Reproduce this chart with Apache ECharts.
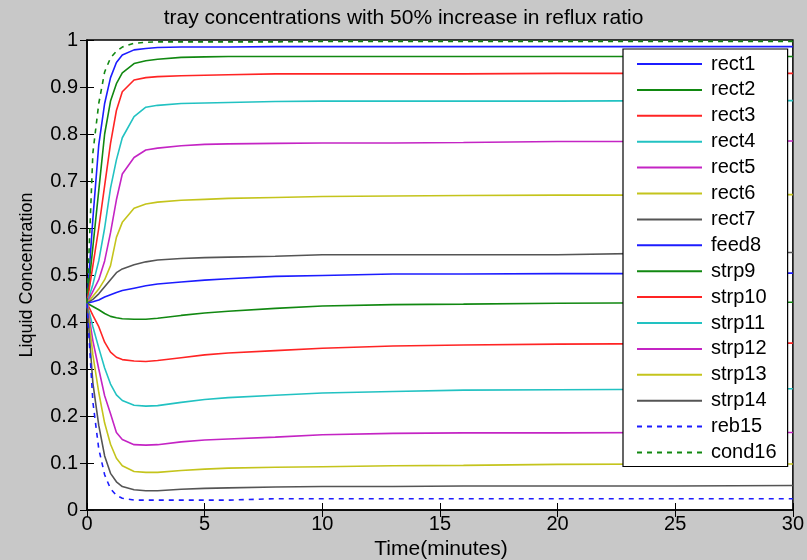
<!DOCTYPE html>
<html>
<head>
    <meta charset="utf-8"/>
    <title>tray concentrations</title>
    <script src="https://cdn.jsdelivr.net/npm/echarts@6/dist/echarts.min.js"></script>
    <style>
        html, body { margin: 0; padding: 0; background: #c8c8c8; }
        #chart { width: 807px; height: 560px; }
    </style>
</head>
<body>
<div id="chart"></div>
<script type="text/javascript">
    // time in minutes (shared by all trays)
    var times = [0, 0.25, 0.5, 0.75, 1, 1.25, 1.5, 2, 2.5, 3, 4, 5, 6, 8, 10, 13, 16, 20, 25, 30];

    var trayNames = ['rect1', 'rect2', 'rect3', 'rect4', 'rect5', 'rect6', 'rect7', 'feed8',
        'strp9', 'strp10', 'strp11', 'strp12', 'strp13', 'strp14', 'reb15', 'cond16'];

    var rect1  = [0.44, 0.62, 0.777, 0.865, 0.92, 0.952, 0.968, 0.979, 0.982, 0.984, 0.985, 0.985, 0.985, 0.986, 0.986, 0.986, 0.986, 0.986, 0.986, 0.986];
    var rect2  = [0.44, 0.56, 0.68, 0.80, 0.87, 0.907, 0.93, 0.95, 0.956, 0.959, 0.963, 0.964, 0.965, 0.965, 0.965, 0.965, 0.965, 0.965, 0.965, 0.965];
    var rect3  = [0.44, 0.52, 0.60, 0.69, 0.78, 0.85, 0.89, 0.915, 0.92, 0.922, 0.924, 0.925, 0.926, 0.928, 0.928, 0.928, 0.928, 0.929, 0.929, 0.929];
    var rect4  = [0.44, 0.48, 0.53, 0.60, 0.685, 0.745, 0.792, 0.837, 0.857, 0.861, 0.865, 0.866, 0.867, 0.869, 0.87, 0.87, 0.87, 0.87, 0.871, 0.871];
    var rect5  = [0.44, 0.465, 0.49, 0.53, 0.59, 0.66, 0.715, 0.75, 0.766, 0.770, 0.775, 0.778, 0.779, 0.780, 0.781, 0.781, 0.782, 0.784, 0.784, 0.785];
    var rect6  = [0.44, 0.455, 0.47, 0.49, 0.52, 0.58, 0.612, 0.642, 0.651, 0.655, 0.659, 0.661, 0.663, 0.665, 0.667, 0.668, 0.669, 0.670, 0.670, 0.671];
    var rect7  = [0.44, 0.448, 0.46, 0.475, 0.49, 0.505, 0.513, 0.522, 0.528, 0.532, 0.535, 0.537, 0.538, 0.540, 0.543, 0.543, 0.543, 0.543, 0.547, 0.548];
    var feed8  = [0.44, 0.443, 0.447, 0.453, 0.458, 0.463, 0.467, 0.472, 0.477, 0.481, 0.485, 0.489, 0.492, 0.497, 0.499, 0.502, 0.502, 0.503, 0.503, 0.504];
    var strp9  = [0.44, 0.433, 0.426, 0.418, 0.412, 0.409, 0.407, 0.406, 0.406, 0.408, 0.414, 0.419, 0.423, 0.429, 0.434, 0.437, 0.438, 0.440, 0.441, 0.442];
    var strp10 = [0.44, 0.414, 0.39, 0.357, 0.336, 0.325, 0.320, 0.317, 0.316, 0.318, 0.324, 0.330, 0.334, 0.339, 0.344, 0.349, 0.351, 0.353, 0.354, 0.355];
    var strp11 = [0.44, 0.39, 0.345, 0.302, 0.268, 0.245, 0.233, 0.223, 0.221, 0.222, 0.229, 0.235, 0.239, 0.244, 0.249, 0.252, 0.255, 0.256, 0.257, 0.258];
    var strp12 = [0.44, 0.36, 0.30, 0.243, 0.205, 0.165, 0.150, 0.139, 0.138, 0.139, 0.145, 0.149, 0.151, 0.155, 0.160, 0.163, 0.164, 0.164, 0.165, 0.165];
    var strp13 = [0.44, 0.33, 0.25, 0.185, 0.14, 0.11, 0.094, 0.082, 0.080, 0.080, 0.084, 0.087, 0.089, 0.091, 0.092, 0.094, 0.095, 0.097, 0.098, 0.098];
    var strp14 = [0.44, 0.27, 0.18, 0.115, 0.078, 0.06, 0.05, 0.043, 0.041, 0.041, 0.044, 0.046, 0.047, 0.049, 0.050, 0.050, 0.051, 0.051, 0.051, 0.052];
    var reb15  = [0.44, 0.23, 0.13, 0.075, 0.045, 0.031, 0.025, 0.021, 0.021, 0.021, 0.021, 0.021, 0.021, 0.024, 0.024, 0.024, 0.024, 0.024, 0.024, 0.024];
    var cond16 = [0.44, 0.76, 0.865, 0.932, 0.962, 0.976, 0.985, 0.993, 0.995, 0.996, 0.996, 0.996, 0.996, 0.996, 0.997, 0.997, 0.997, 0.997, 0.997, 0.997];

    var trayValues = [rect1, rect2, rect3, rect4, rect5, rect6, rect7, feed8,
        strp9, strp10, strp11, strp12, strp13, strp14, reb15, cond16];

    // matlab line colour order, repeated
    var colorOrder = ['#1c1cff', '#118811', '#ff2424', '#22c2c2', '#c424c4', '#c4c41c', '#555555'];

    var xTicks = { min: 0, max: 30, interval: 5 };
    var yTicks = { min: 0, max: 1, interval: 0.1 };

    var font = 'Arial, "Liberation Sans", sans-serif';

    var series = trayNames.map(function (name, i) {
        var dashed = (name === 'reb15' || name === 'cond16');
        var color = name === 'reb15' ? colorOrder[0] : (name === 'cond16' ? colorOrder[1] : colorOrder[i % 7]);
        return {
            name: name,
            type: 'line',
            xAxisIndex: 0,
            yAxisIndex: 0,
            symbol: 'none',
            smooth: false,
            color: color,
            lineStyle: { width: 1.6, color: color, type: dashed ? [5, 5] : 'solid' },
            data: times.map(function (t, k) { return [t, trayValues[i][k]]; })
        };
    });

    var chart = echarts.init(document.getElementById('chart'));

    var tickStyle = { inside: true, length: 7, lineStyle: { color: '#000', width: 1 } };
    var labelStyle = { color: '#000', fontSize: 20, fontFamily: font };

    var option = {
        backgroundColor: '#c8c8c8',
        animation: false,
        grid: {
            left: 87, right: 11, top: 40, bottom: 50,
            show: true, backgroundColor: '#fff', borderColor: '#000', borderWidth: 1.5
        },
        xAxis: [{
            type: 'value', min: xTicks.min, max: xTicks.max, interval: xTicks.interval,
            axisLine: { show: true, lineStyle: { color: '#000', width: 1.5 } },
            axisTick: tickStyle,
            axisLabel: Object.assign({ margin: 4 }, labelStyle),
            splitLine: { show: false }
        }, {
            type: 'value', position: 'top', min: xTicks.min, max: xTicks.max, interval: xTicks.interval,
            axisLine: { show: false }, axisTick: tickStyle,
            axisLabel: { show: false }, splitLine: { show: false }
        }],
        yAxis: [{
            type: 'value', min: yTicks.min, max: yTicks.max, interval: yTicks.interval,
            axisLine: { show: true, lineStyle: { color: '#000', width: 1.5 } },
            axisTick: tickStyle,
            axisLabel: Object.assign({ margin: 9 }, labelStyle),
            splitLine: { show: false }
        }, {
            type: 'value', position: 'right', min: yTicks.min, max: yTicks.max, interval: yTicks.interval,
            axisLine: { show: false }, axisTick: tickStyle,
            axisLabel: { show: false }, splitLine: { show: false }
        }],
        legend: {
            data: trayNames,
            orient: 'vertical',
            left: 623,
            top: 49,
            padding: [5, 11, 4, 13],
            backgroundColor: '#fff',
            borderColor: '#000',
            borderWidth: 1.2,
            borderRadius: 0,
            itemWidth: 65,
            itemHeight: 14,
            itemGap: 5.9,
            itemStyle: { opacity: 0 },
            textStyle: { color: '#000', fontSize: 20, fontFamily: font, padding: [0, 0, 0, 4] }
        },
        graphic: [{
            type: 'text', left: 'center', top: 8,
            style: { text: 'tray concentrations with 50% increase in reflux ratio', fill: '#000', font: '21px ' + font }
        }, {
            type: 'text', x: 441, y: 549,
            style: { text: 'Time(minutes)', fill: '#000', font: '21px ' + font, align: 'center', verticalAlign: 'middle' }
        }, {
            type: 'text', x: 27, y: 275, rotation: Math.PI / 2,
            style: { text: 'Liquid Concentration', fill: '#000', font: '18px ' + font, align: 'center', verticalAlign: 'middle' }
        }],
        series: series
    };
    chart.setOption(option);
</script>
</body>
</html>
